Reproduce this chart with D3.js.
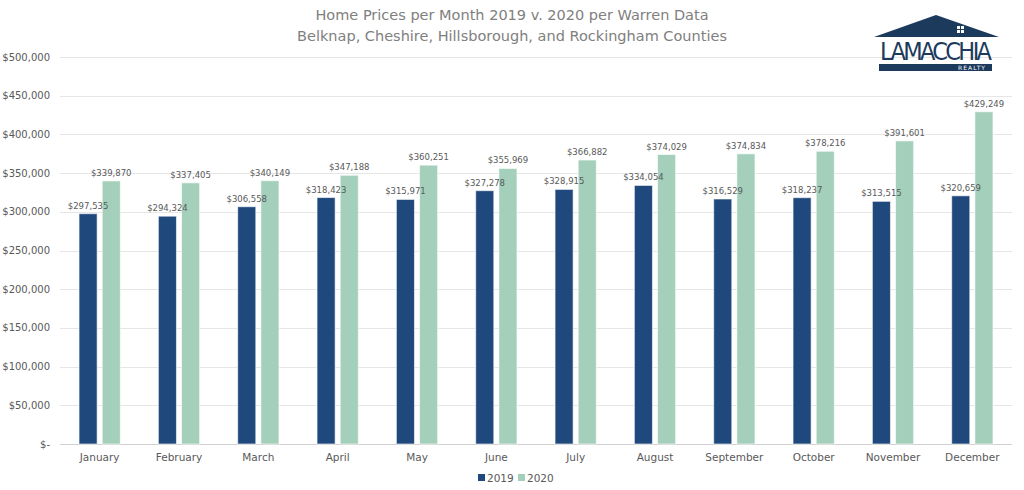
<!DOCTYPE html>
<html>
<head>
<meta charset="utf-8">
<script src="https://cdn.jsdelivr.net/npm/d3@7"></script>
<style>
  body { margin: 0; background: #fff; }
  text { font-family: "DejaVu Sans", sans-serif; }
</style>
</head>
<body>
<div id="chart"></div>
<script>
// data
var months = ["January", "February", "March", "April", "May", "June", "July", "August", "September", "October", "November", "December"];
var seriesNames = ["2019", "2020"];
var values2019 = [297535, 294324, 306558, 318423, 315971, 327278, 328915, 334054, 316529, 318237, 313515, 320659];
var values2020 = [339870, 337405, 340149, 347188, 360251, 355969, 366882, 374029, 374834, 378216, 391601, 429249];
var yTicks = [0, 50000, 100000, 150000, 200000, 250000, 300000, 350000, 400000, 450000, 500000];

var width = 1024, height = 490;
var colors = {"2019": "#1f497d", "2020": "#a3cfbb"};
var textColor = "#595959";

var svg = d3.select("#chart")
  .append("svg")
  .attr("width", width)
  .attr("height", height);

var x0 = d3.scaleBand()
  .domain(months)
  .range([60, 1012])
  .paddingInner(0.48)
  .paddingOuter(0.24);

var x1 = d3.scaleBand()
  .domain(seriesNames)
  .range([0, x0.bandwidth()])
  .paddingInner(0.22)
  .paddingOuter(0);

var y = d3.scaleLinear()
  .domain([0, 500000])
  .range([444, 57]);

// gridlines
svg.append("g")
  .selectAll("line")
  .data(yTicks)
  .join("line")
  .attr("x1", 60)
  .attr("x2", 1012)
  .attr("y1", function(d) { return Math.round(y(d)) + 0.5; })
  .attr("y2", function(d) { return Math.round(y(d)) + 0.5; })
  .attr("stroke", function(d) { return d === 0 ? "#d0d0d0" : "#e6e6e6"; })
  .attr("stroke-width", 1);

// y axis labels
var fmt = d3.format(",");
svg.append("g")
  .selectAll("text")
  .data(yTicks)
  .join("text")
  .attr("x", 50)
  .attr("y", function(d) { return y(d); })
  .attr("dy", "0.35em")
  .attr("text-anchor", "end")
  .attr("fill", textColor)
  .style("font-size", "10px")
  .text(function(d) { return d === 0 ? "$-" : "$" + fmt(d); });

// x axis labels
svg.append("g")
  .selectAll("text")
  .data(months)
  .join("text")
  .attr("x", function(d) { return x0(d) + x0.bandwidth() / 2; })
  .attr("y", 461)
  .attr("text-anchor", "middle")
  .attr("fill", textColor)
  .style("font-size", "10.5px")
  .text(function(d) { return d; });

// bars
var rows = months.map(function(m, i) {
  return [{month: m, key: "2019", value: values2019[i]}, {month: m, key: "2020", value: values2020[i]}];
});

var groups = svg.append("g")
  .selectAll("g")
  .data(rows)
  .join("g")
  .attr("transform", function(d) { return "translate(" + x0(d[0].month) + ",0)"; });

groups.selectAll("rect")
  .data(function(d) { return d; })
  .join("rect")
  .attr("x", function(d) { return x1(d.key); })
  .attr("y", function(d) { return y(d.value); })
  .attr("width", x1.bandwidth())
  .attr("height", function(d) { return y(0) - y(d.value); })
  .attr("fill", function(d) { return colors[d.key]; })
  .attr("stroke", "#ffffff")
  .attr("stroke-opacity", 0.6)
  .attr("stroke-width", 1);

groups.selectAll("text")
  .data(function(d) { return d; })
  .join("text")
  .attr("x", function(d) { return x1(d.key) + x1.bandwidth() / 2; })
  .attr("y", function(d) { return y(d.value) - 5; })
  .attr("text-anchor", "middle")
  .attr("fill", textColor)
  .style("font-size", "8.5px")
  .text(function(d) { return "$" + fmt(d.value); });

// title
svg.append("text")
  .attr("x", 512).attr("y", 20)
  .attr("text-anchor", "middle")
  .attr("fill", "#808080")
  .style("font-size", "14.5px")
  .text("Home Prices per Month 2019 v. 2020 per Warren Data");
svg.append("text")
  .attr("x", 512).attr("y", 41)
  .attr("text-anchor", "middle")
  .attr("fill", "#808080")
  .style("font-size", "14.5px")
  .text("Belknap, Cheshire, Hillsborough, and Rockingham Counties");

// legend
var legend = svg.append("g").attr("transform", "translate(478,478)");
seriesNames.forEach(function(s, i) {
  var g = legend.append("g").attr("transform", "translate(" + (i * 40) + ",0)");
  g.append("rect").attr("x", 0).attr("y", -4).attr("width", 7).attr("height", 7).attr("fill", colors[s]);
  g.append("text").attr("x", 9).attr("y", 0).attr("dy", "0.35em")
    .attr("fill", textColor).style("font-size", "10.5px").text(s);
});

// logo
var logo = svg.append("g").attr("transform", "translate(874,14)");
logo.append("path")
  .attr("d", "M0,23 L62,1 L125,23 Z")
  .attr("fill", "#1b3a5c");
logo.append("rect").attr("x", 83).attr("y", 12).attr("width", 7).attr("height", 7).attr("fill", "#ffffff");
logo.append("line").attr("x1", 86.5).attr("x2", 86.5).attr("y1", 12).attr("y2", 19).attr("stroke", "#1b3a5c").attr("stroke-width", 1);
logo.append("line").attr("x1", 83).attr("x2", 90).attr("y1", 15.5).attr("y2", 15.5).attr("stroke", "#1b3a5c").attr("stroke-width", 1);
logo.append("text")
  .attr("x", 62).attr("y", 46)
  .attr("text-anchor", "middle")
  .attr("fill", "#1b3a5c")
  .style("font-family", "'Liberation Sans Narrow', 'DejaVu Sans Condensed', sans-serif")
  .style("font-size", "25px")
  .attr("textLength", 112)
  .text("LAMACCHIA");
logo.append("rect").attr("x", 5).attr("y", 50).attr("width", 113).attr("height", 7).attr("fill", "#1b3a5c");
logo.append("text")
  .attr("x", 112).attr("y", 56)
  .attr("text-anchor", "end")
  .attr("fill", "#ffffff")
  .style("font-size", "6px")
  .style("letter-spacing", "1px")
  .text("REALTY");
</script>
</body>
</html>
